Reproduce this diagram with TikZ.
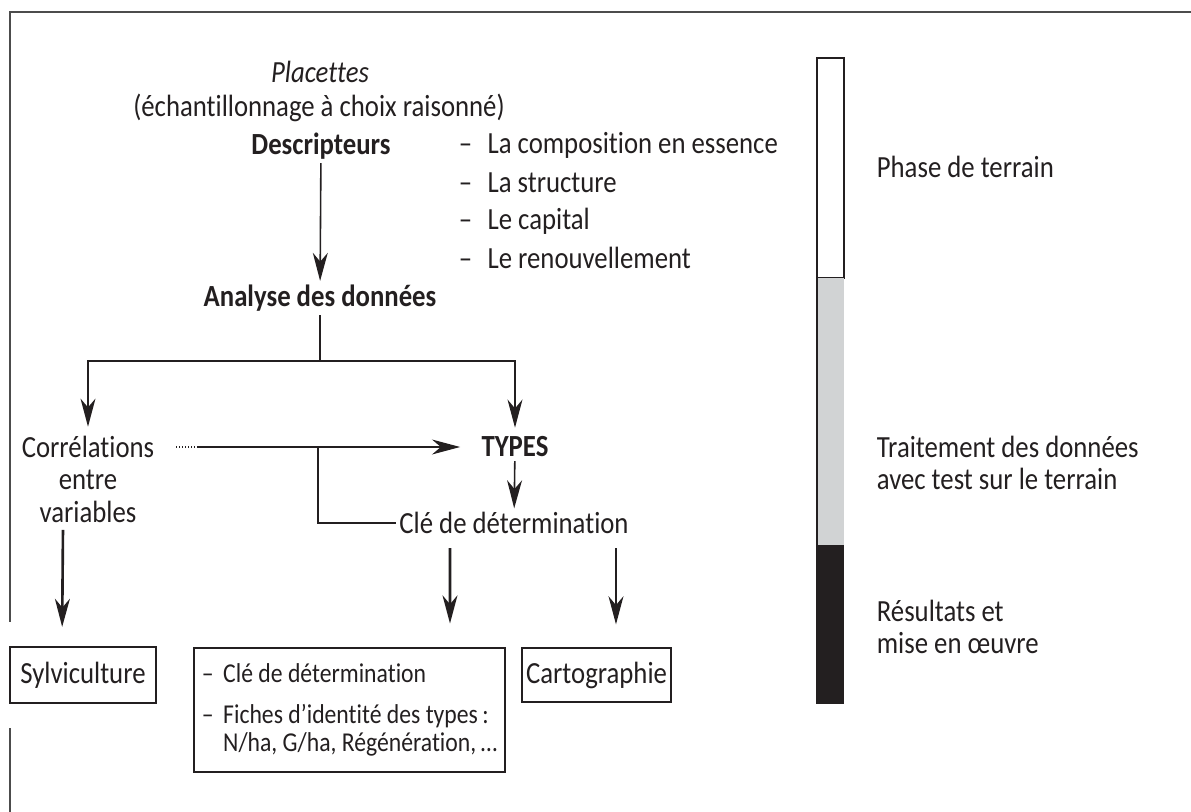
\documentclass[tikz,border=0pt]{standalone}
\usepackage{fontspec}
\setmainfont[FakeStretch=0.87, Ligatures={NoCommon}]{Carlito}
\usetikzlibrary{positioning,arrows.meta,calc}
\definecolor{encre}{HTML}{231F20}
\definecolor{grisclair}{HTML}{D1D3D4}
\newcommand{\taille}{\fontsize{17.5}{18.5}\selectfont}
\newcommand{\petite}{\fontsize{15.5}{16}\selectfont}
\newcommand{\tiret}{–\hspace{0.5em}}
\newcommand{\tiretserre}{–\hspace{0.35em}}
\tikzset{
  texte/.style={inner sep=2pt, text=encre, font=\taille},
  gras/.style={texte, font=\taille\bfseries},
  liste/.style={texte, anchor=west},
  boite/.style={texte, draw=encre, line width=0.9pt},
  trait/.style={line width=0.7pt, draw=encre},
  fleche/.style={trait, line width=0.9pt, -{Stealth[length=16pt,width=8.5pt,inset=5pt]}},
  flechegras/.style={fleche, line width=1.5pt},
  cadre/.style={line width=1.2pt, draw=black!70}
}

\begin{document}
\begin{tikzpicture}[x=0.02cm,y=-0.02cm]
  \useasboundingbox (0,0) rectangle (1191,812);
  % cadre
  \draw[cadre] (1191,12) -- (10,12) -- (10,622);
  \draw[cadre] (10,728) -- (10,812);

  % placettes et descripteurs
  \node[texte, font=\taille\itshape] (placettes) at (320,72) {Placettes};
  \node[texte] (echant) at (319,108) {(échantillonnage à choix raisonné)};
  \node[gras] (descr) at (321,146) {Descripteurs};
  \node[liste] (essence) at (455,145) {\tiret La composition en essence};
  \node[liste, below=0.76cm of essence.west, anchor=west] (structure) {\tiret La structure};
  \node[liste, below=0.76cm of structure.west, anchor=west] (capital) {\tiret Le capital};
  \node[liste, below=0.74cm of capital.west, anchor=west] (renouv) {\tiret Le renouvellement};

  \node[gras] (analyse) at (320,298) {Analyse des données};
  \coordinate (embranch) at (320,361);

  \node[texte, align=center, anchor=north] (correl) at (88,432) {Corrélations\\entre\\variables};
  \node[gras] (types) at (515,447) {TYPES};
  \node[texte] (cle) at (514,523) {Clé de détermination};
  \coordinate (coude) at (318,447);

  % resultats
  \node[boite, minimum width=2.92cm, minimum height=1.12cm] (sylvi) at (83,675) {Sylviculture};
  \node[boite, font=\petite, minimum width=6.22cm, minimum height=2.48cm, align=left] (fiches) at (349.5,710)
    {\tiretserre Clé de détermination\\[7pt]
     \tiretserre Fiches d’identité des types\,:\\
     \hphantom{\tiretserre}N/ha, G/ha, Régénération,\,…};
  \node[boite, minimum width=2.98cm, minimum height=1.08cm] (carto) at (596.5,675) {Cartographie};

  % connecteurs
  \draw[fleche] (descr) -- (analyse);
  \draw[trait] (analyse) -- (embranch);
  \draw[fleche, shorten >=3pt] (embranch) -| (correl.north);
  \draw[fleche, shorten >=3pt] (embranch) -| (types.north);
  \coordinate (corA) at ($(correl.north east)+(18,15)$);
  \coordinate (corB) at ($(corA)+(22,0)$);
  \draw[trait, densely dotted] (corA) -- (corB);
  \draw[fleche, shorten >=10pt] (corB) -- (types.west);
  \draw[trait] (cle.west) -| (coude);
  \draw[fleche] (types) -- (cle);
  \draw[flechegras, shorten <=2pt, shorten >=11pt] ([xshift=-0.5cm]correl.south) -- ([xshift=-0.42cm]sylvi.north);
  \draw[flechegras, shorten <=6pt, shorten >=13.5pt] ([xshift=-1.28cm]cle.south) -- ([xshift=2.01cm]fiches.north);
  \draw[fleche, shorten <=6pt, shorten >=13pt] ([xshift=2.04cm]cle.south) -- ([xshift=0.39cm]carto.north);

  % echelle des phases
  \draw[encre, line width=0.7pt, fill=white] (817,58) rectangle (844,278);
  \fill[grisclair] (817,278) rectangle (844,545);
  \fill[encre] (817,545) rectangle (844,704);
  \draw[encre, line width=0.7pt] (817,278) -- (817,704);
  \node[liste] (terrain) at (873,167) {Phase de terrain};
  \node[liste, align=left] (traitement) at (873,463) {Traitement des données\\avec test sur le terrain};
  \node[liste, align=left] (resultats) at (873,627) {Résultats et\\mise en œuvre};
\end{tikzpicture}
\end{document}
